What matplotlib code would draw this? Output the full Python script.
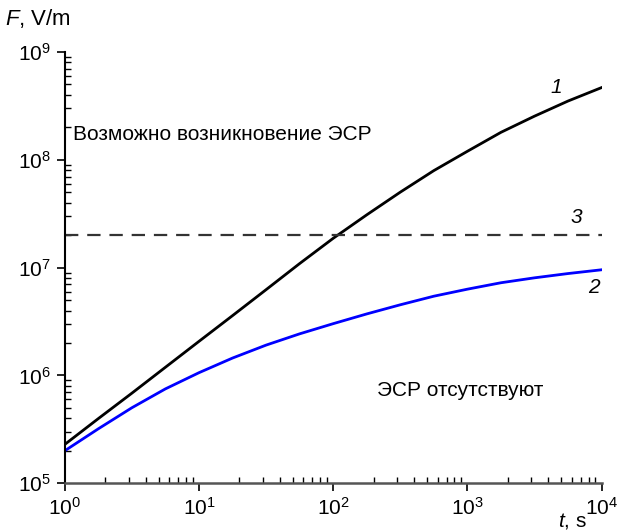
import numpy as np
import matplotlib
matplotlib.use('Agg')
import matplotlib.pyplot as plt
from matplotlib.ticker import LogLocator, NullFormatter

plt.rcParams['font.family'] = ['Liberation Sans', 'DejaVu Sans']
plt.rcParams['mathtext.fontset'] = 'custom'
plt.rcParams['mathtext.rm'] = 'Liberation Sans'
plt.rcParams['mathtext.it'] = 'Liberation Sans:italic'

# данные
t = [1, 1.78, 3.16, 5.62, 10, 17.8, 31.6, 56.2, 100, 178, 316, 562,
     1000, 1780, 3160, 5620, 10000]
F1 = [2.29e5, 3.98e5, 6.84e5, 1.19e6, 2.07e6, 3.59e6, 6.24e6, 1.09e7, 1.87e7,
      3.09e7, 5.01e7, 7.94e7, 1.20e8, 1.80e8, 2.54e8, 3.51e8, 4.68e8]
F2 = [2.0e5, 3.2e5, 5.01e5, 7.5e5, 1.06e6, 1.45e6, 1.91e6, 2.43e6, 3.02e6,
      3.72e6, 4.52e6, 5.43e6, 6.31e6, 7.24e6, 8.04e6, 8.81e6, 9.55e6]
F_crit = 2.0e7

fig = plt.figure(figsize=(6.17, 5.31), dpi=100)
ax = fig.add_axes([0.105, 0.090, 0.870, 0.812])

ax.plot(t, F1, color='black', lw=2.0, solid_joinstyle='round')
ax.plot(t, F2, color='#0000ff', lw=2.0, solid_joinstyle='round')
ax.plot([t[0], t[-1]], [F_crit, F_crit], color='#333333', lw=1.6, dashes=(6, 4))

ax.set_xscale('log')
ax.set_yscale('log')
ax.set_xlim(1, 1e4)
ax.set_ylim(1e5, 1e9)

for s in ['top', 'right']:
    ax.spines[s].set_visible(False)
ax.spines['left'].set_linewidth(1.5)
ax.spines['bottom'].set_linewidth(1.8)
ax.spines['bottom'].set_color('#555555')

ax.xaxis.set_major_locator(LogLocator(base=10, numticks=10))
ax.yaxis.set_major_locator(LogLocator(base=10, numticks=10))
ax.xaxis.set_minor_locator(LogLocator(base=10, subs=np.arange(2, 10), numticks=20))
ax.yaxis.set_minor_locator(LogLocator(base=10, subs=np.arange(2, 10), numticks=20))
ax.xaxis.set_minor_formatter(NullFormatter())
ax.yaxis.set_minor_formatter(NullFormatter())
ax.tick_params(which='major', direction='out', length=6, width=1.2, labelsize=15, pad=4)
ax.tick_params(which='minor', direction='in', length=4, width=1.0)

fig.text(0.008, 0.965, r'$\mathit{F}$, V/m', fontsize=16, va='center', ha='left')
fig.text(0.905, 0.018, r'$\mathit{t}$, s', fontsize=15, va='center', ha='left')

ax.text(1.15, 1.7e8, 'Возможно возникновение ЭСР', fontsize=15, va='center')
ax.text(890, 7.3e5, 'ЭСР отсутствуют', fontsize=15, va='center', ha='center')
ax.text(4600, 4.7e8, '1', fontsize=15, style='italic', ha='center', va='center')
ax.text(6500, 2.9e7, '3', fontsize=15, style='italic', ha='center', va='center')
ax.text(8700, 6.6e6, '2', fontsize=15, style='italic', ha='center', va='center')

plt.savefig('out.png', dpi=100)
plt.close()
